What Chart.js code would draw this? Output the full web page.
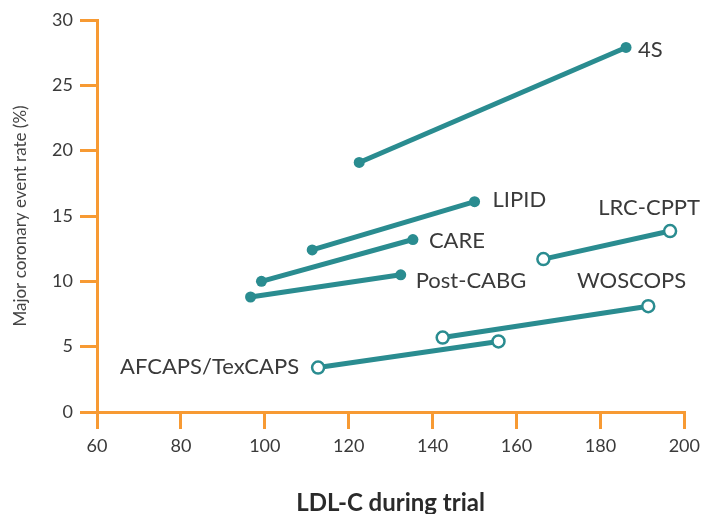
<!DOCTYPE html>
<html>
<head>
<meta charset="utf-8">
<script src="https://cdn.jsdelivr.net/npm/chart.js@4"></script>
<style>
  html, body { margin: 0; padding: 0; background: #ffffff; }
  #wrap { width: 706px; height: 514px; }
</style>
</head>
<body>
<div id="wrap"><canvas id="c" width="706" height="514"></canvas></div>
<script>
// ---- data ----
const studies   = ['4S', 'LIPID', 'CARE', 'Post-CABG', 'LRC-CPPT', 'WOSCOPS', 'AFCAPS/TexCAPS'];
const ldlStart  = [122.5, 111.3, 99.2, 96.6, 166.4, 142.4, 112.7];
const ldlEnd    = [186.1, 150.0, 135.3, 132.4, 196.6, 191.4, 155.7];
const rateStart = [19.1, 12.4, 10.0, 8.8, 11.7, 5.7, 3.4];
const rateEnd   = [27.9, 16.1, 13.2, 10.5, 13.85, 8.1, 5.4];
const openMarker = [false, false, false, false, true, true, true];
const xTicks = [60, 80, 100, 120, 140, 160, 180, 200];
const yTicks = [0, 5, 10, 15, 20, 25, 30];

// ---- styles ----
const TEAL = '#2a8c90';
const ORANGE = '#f79a33';
const TEXT = '#3a3a3a';
const FONT = 'Lato';

// label placement: which end, offsets, alignment
const labelPlace = [
  { end: 1, dx: 12, dy: 2, align: 'left' },
  { end: 1, dx: 18, dy: -2, align: 'left' },
  { end: 1, dx: 16, dy: 1, align: 'left' },
  { end: 1, dx: 15, dy: 6, align: 'left' },
  { end: 1, dx: 30, dy: -23, align: 'right' },
  { end: 1, dx: 38, dy: -25, align: 'right' },
  { end: 0, dx: -19, dy: -1, align: 'right' }
];

const datasets = studies.map((name, i) => ({
  label: name,
  data: [{ x: ldlStart[i], y: rateStart[i] }, { x: ldlEnd[i], y: rateEnd[i] }],
  showLine: true,
  borderColor: TEAL,
  borderWidth: 5,
  pointRadius: openMarker[i] ? 6 : 5.5,
  pointBorderWidth: openMarker[i] ? 2.5 : 0,
  pointBackgroundColor: openMarker[i] ? '#ffffff' : TEAL,
  pointBorderColor: TEAL,
  pointHoverRadius: 6
}));

const labelPlugin = {
  id: 'studyLabels',
  afterDatasetsDraw(chart) {
    const ctx = chart.ctx;
    const xs = chart.scales.x, ys = chart.scales.y;
    ctx.save();
    ctx.font = '22px ' + FONT;
    ctx.fillStyle = TEXT;
    ctx.textBaseline = 'middle';
    studies.forEach((name, i) => {
      const p = labelPlace[i];
      const xv = p.end ? ldlEnd[i] : ldlStart[i];
      const yv = p.end ? rateEnd[i] : rateStart[i];
      ctx.textAlign = p.align;
      ctx.fillText(name, xs.getPixelForValue(xv) + p.dx, ys.getPixelForValue(yv) + p.dy);
    });
    ctx.restore();
  }
};

new Chart(document.getElementById('c'), {
  type: 'scatter',
  data: { datasets },
  plugins: [labelPlugin],
  options: {
    responsive: false,
    animation: false,
    events: [],
    layout: { padding: { left: 0, right: 17, top: 20, bottom: 0 } },
    plugins: { legend: { display: false }, tooltip: { enabled: false } },
    scales: {
      x: {
        type: 'linear',
        min: 60, max: 200,
        afterBuildTicks(scale) { scale.ticks = xTicks.map(v => ({ value: v })); },
        afterFit(scale) { scale.height = 102; },
        border: { display: true, color: ORANGE, width: 3 },
        grid: { drawOnChartArea: false, drawTicks: true, tickLength: 17, tickColor: ORANGE, tickWidth: 3, color: ORANGE, lineWidth: 3 },
        ticks: { color: TEXT, font: { family: FONT, size: 18 }, padding: 6, maxRotation: 0 },
        title: { display: true, text: 'LDL-C during trial', color: '#2a2a2a', font: { family: FONT, size: 24, weight: 'bold' }, padding: { top: 0, bottom: -4 } }
      },
      y: {
        type: 'linear',
        min: 0, max: 30,
        afterBuildTicks(scale) { scale.ticks = yTicks.map(v => ({ value: v })); },
        afterFit(scale) { scale.width = 97; },
        border: { display: true, color: ORANGE, width: 3 },
        grid: { drawOnChartArea: false, drawTicks: true, tickLength: 17, tickColor: ORANGE, tickWidth: 3, color: ORANGE, lineWidth: 3 },
        ticks: { color: TEXT, font: { family: FONT, size: 18 }, padding: 7 },
        title: { display: true, text: 'Major coronary event rate (%)', color: '#444444', font: { family: FONT, size: 17 }, padding: { top: 10, bottom: 0 } }
      }
    }
  }
});
</script>
</body>
</html>
